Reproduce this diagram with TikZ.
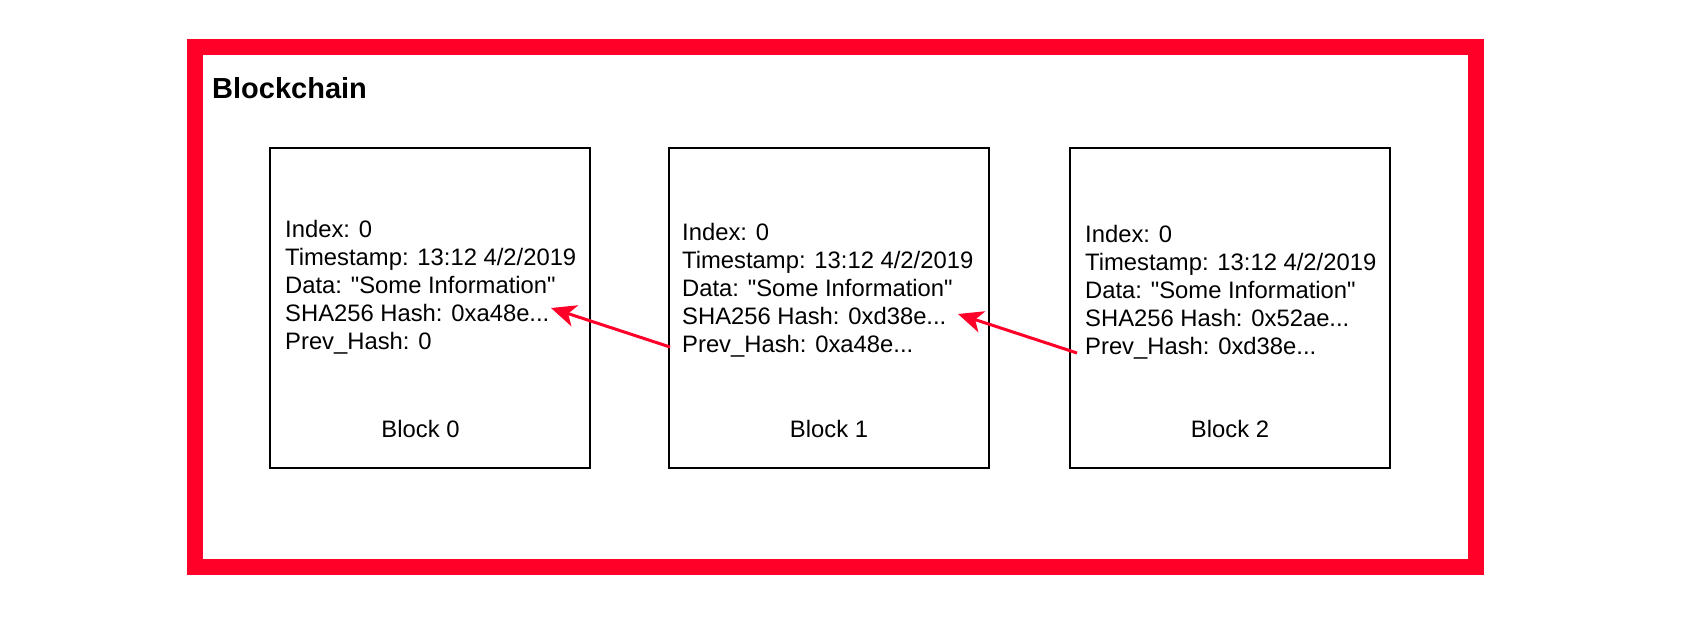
\documentclass[tikz,border=0pt]{standalone}
\usepackage{fontspec}
\setmainfont{Liberation Sans}
\usetikzlibrary{arrows.meta}
\definecolor{chainred}{HTML}{FF0028}
\newcommand{\infolines}[1]{\begin{tabular}[t]{@{}l@{}}#1\end{tabular}}
\tikzset{
  blockbox/.style={draw=black, line width=2pt, minimum width=320pt, minimum height=320pt, inner sep=0pt},
  info/.style={anchor=base west, inner sep=0pt, font=\fontsize{23.8pt}{28pt}\selectfont},
  blabel/.style={anchor=base, inner sep=0pt, font=\fontsize{23.8pt}{28pt}\selectfont},
  link/.style={draw=chainred, line width=3pt, -{Stealth[length=25pt,width=22pt,inset=7pt]}},
}
\begin{document}
\begin{tikzpicture}[x=1pt,y=-1pt]
\useasboundingbox (0,0) rectangle (1684,626);
\fill[white] (0,0) rectangle (1684,626);
% frame
\draw[chainred, line width=16pt] (195,47.5) rectangle (1475.5,567);
\node[anchor=base west, inner sep=0pt, font=\fontsize{29pt}{32pt}\selectfont\bfseries] (title) at (212,98) {Blockchain};
% blocks
\node[blockbox] (b0) at (429.5,307.5) {};
\node[blockbox] (b1) at (829,307.5) {};
\node[blockbox] (b2) at (1229.5,307.5) {};
\renewcommand{\arraystretch}{1}
\node[info] (t0) at (285,237) {\infolines{Index: 0\\Timestamp: 13:12 4/2/2019\\Data: \textquotedbl Some Information\textquotedbl\\SHA256 Hash: 0xa48e...\\Prev\_Hash: 0}};
\node[info] (t1) at (682,240) {\infolines{Index: 0\\Timestamp: 13:12 4/2/2019\\Data: \textquotedbl Some Information\textquotedbl\\SHA256 Hash: 0xd38e...\\Prev\_Hash: 0xa48e...}};
\node[info] (t2) at (1085,242) {\infolines{Index: 0\\Timestamp: 13:12 4/2/2019\\Data: \textquotedbl Some Information\textquotedbl\\SHA256 Hash: 0x52ae...\\Prev\_Hash: 0xd38e...}};
\node[blabel] (l0) at (420.5,437) {Block 0};
\node[blabel] (l1) at (829,437) {Block 1};
\node[blabel] (l2) at (1230,437) {Block 2};
% links
\coordinate (s1) at (670,347);
\coordinate (e1) at (551,308);
\coordinate (s2) at (1077,353);
\coordinate (e2) at (958,314);
\draw[link] (s1) -- (e1);
\draw[link] (s2) -- (e2);
\end{tikzpicture}
\end{document}
